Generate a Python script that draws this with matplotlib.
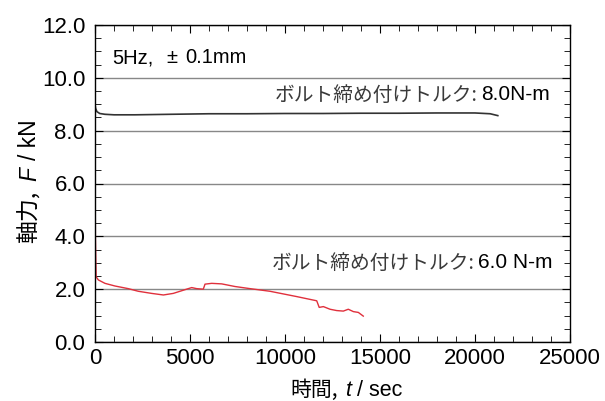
import matplotlib
matplotlib.use('Agg')
import matplotlib.pyplot as plt
from matplotlib.ticker import MultipleLocator

plt.rcParams['font.family'] = ['Liberation Sans', 'Noto Sans CJK JP']

# 8.0 N-m curve (time in sec, axial force in kN)
t_80 = [0, 30, 100, 250, 520, 1000, 2100, 4000, 6000, 8000, 10000, 12000,
        14000, 16000, 18000, 20000, 20800, 21200]
f_80 = [9.0, 8.85, 8.72, 8.65, 8.62, 8.6, 8.6, 8.62, 8.64, 8.64, 8.65, 8.65,
        8.66, 8.66, 8.67, 8.67, 8.64, 8.57]

# 6.0 N-m curve
t_60 = [0, 20, 60, 175, 526, 1050, 1750, 2280, 2980, 3600, 4120, 4560, 4910,
        5090, 5350, 5700, 5790, 6140, 6670, 7370, 8160, 9210, 10610, 11670,
        11800, 12020, 12370, 12720, 13070, 13330, 13600, 13860, 14120]
f_60 = [7.9, 4.0, 2.47, 2.35, 2.22, 2.12, 2.02, 1.92, 1.84, 1.78, 1.84, 1.94,
        2.02, 2.06, 2.02, 2.0, 2.19, 2.22, 2.2, 2.1, 2.02, 1.92, 1.72, 1.56,
        1.31, 1.34, 1.24, 1.19, 1.17, 1.24, 1.15, 1.12, 0.98]

W, H = 605, 401
fig = plt.figure(figsize=(W / 100, H / 100), dpi=100)
ax = fig.add_axes([95 / W, 1 - 342 / H, 475 / W, 317 / H])

ax.plot(t_80, f_80, color='#333333', lw=1.2)
ax.plot(t_60, f_60, color='#e0303c', lw=1.0)

ax.set_xlim(0, 25000)
ax.set_ylim(0, 12)
ax.xaxis.set_major_locator(MultipleLocator(5000))
ax.xaxis.set_minor_locator(MultipleLocator(1000))
ax.yaxis.set_major_locator(MultipleLocator(2))
ax.yaxis.set_minor_locator(MultipleLocator(0.5))
ax.yaxis.set_major_formatter(lambda v, p: f'{v:.1f}')
ax.grid(axis='y', color='#888888', lw=1)
ax.tick_params(which='both', direction='in', top=True, right=True, labelsize=16)
ax.tick_params(axis='x', pad=4)
ax.tick_params(axis='y', pad=7)
ax.tick_params(which='major', length=6)
ax.tick_params(which='minor', length=4)
for s in ax.spines.values():
    s.set_linewidth(1)

JP = 'Noto Sans CJK JP'
LS = 'Liberation Sans'
renderer = fig.canvas.get_renderer()


def run_text(pieces, along, base, ha='left', vertical=False):
    # lay pieces (text, size, family, style, color, gap_px) one after another
    items = []
    total = 0
    for s, size, fam, style, color, gap in pieces:
        t = fig.text(0, 0, s, fontsize=size, family=fam, style=style,
                     color=color, ha='left', va='baseline')
        w = t.get_window_extent(renderer).width
        items.append((t, w, gap))
        total += w + gap
    total -= items[-1][2]
    pos = along - {'left': 0, 'center': total / 2, 'right': total}[ha]
    for t, w, gap in items:
        if vertical:
            t.set_rotation(90)
            t.set_rotation_mode('anchor')
            t.set_position((base / W, pos / H))
        else:
            t.set_position((pos / W, base / H))
        pos += w + gap


# axis labels
run_text([('時間,', 15, JP, 'normal', 'black', 7),
          ('t', 15.5, LS, 'italic', 'black', 6),
          ('/ sec', 15.5, LS, 'normal', 'black', 0)],
         along=346, base=5, ha='center')
run_text([('軸力,', 16.5, JP, 'normal', 'black', 10),
          ('F', 16.5, LS, 'italic', 'black', 7),
          ('/ kN', 16.5, LS, 'normal', 'black', 0)],
         along=220, base=36, ha='center', vertical=True)

# annotations
run_text([('5Hz,', 14.5, LS, 'normal', 'black', 13),
          ('±', 14.5, LS, 'normal', 'black', 8),
          ('0.1mm', 14.5, LS, 'normal', 'black', 0)],
         along=112, base=H - 63)
run_text([('ボルト締め付けトルク:', 14.2, JP, 'normal', '#3a3a3a', 3),
          ('8.0N-m', 15, LS, 'normal', 'black', 0)],
         along=550, base=H - 100.5, ha='right')
run_text([('ボルト締め付けトルク:', 14.2, JP, 'normal', '#3a3a3a', 3),
          ('6.0 N-m', 15, LS, 'normal', 'black', 0)],
         along=552, base=H - 268.5, ha='right')

fig.savefig('out.png', dpi=100)
